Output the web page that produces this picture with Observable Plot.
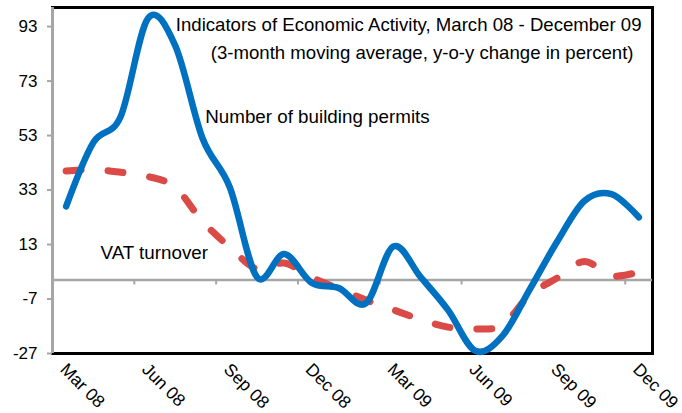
<!DOCTYPE html>
<html>
<head>
<meta charset="utf-8">
<script src="https://cdn.jsdelivr.net/npm/d3@7"></script>
<script src="https://cdn.jsdelivr.net/npm/@observablehq/plot@0.6"></script>
<style>
  html, body { margin: 0; padding: 0; background: white; }
  #chart svg { display: block; }
</style>
</head>
<body>
<div id="chart"></div>
<script>
const months = ["Mar 08","Apr 08","May 08","Jun 08","Jul 08","Aug 08","Sep 08","Oct 08","Nov 08","Dec 08","Jan 09","Feb 09","Mar 09","Apr 09","May 09","Jun 09","Jul 09","Aug 09","Sep 09","Oct 09","Nov 09","Dec 09"];
const permits = [27, 50.5, 60, 96, 86, 52, 34, 1, 9.5, -1, -3, -8.5, 12.3, 1, -11, -26, -20.5, -3.5, 14, 29, 31.5, 23];
const vat = [40, 40.5, 39.5, 38, 34, 21.5, 12, 4, 6.2, 1, -3.3, -7.4, -11, -14.5, -17.3, -18, -16.5, -5.5, 0.7, 6.8, 1.5, 3];
const yTicks = [-27, -7, 13, 33, 53, 73, 93];
const xLabelIdx = [0, 3, 6, 9, 12, 15, 18, 21];
const titleLines = ["Indicators of Economic Activity, March 08 - December 09", "(3-month moving average, y-o-y change in percent)"];
const seriesLabels = [
  {name: "Number of building permits", i: 5.1, v: 59.7},
  {name: "VAT turnover", i: 1.26, v: 10}
];

const permitsData = months.map((m, i) => ({i, v: permits[i]}));
const vatData = months.map((m, i) => ({i, v: vat[i]}));
const boundaries = xLabelIdx.slice(1).map(i => i - 0.5);

const grey = "#A6A6A6";
const chart = Plot.plot({
  width: 682,
  height: 413,
  marginLeft: 52,
  marginRight: 30,
  marginTop: 7,
  marginBottom: 60,
  style: {fontFamily: "'Liberation Sans', Arial, sans-serif", fontSize: "17px", background: "white", color: "black"},
  x: {type: "linear", domain: [-0.5, months.length - 0.5], axis: null},
  y: {domain: [-27, 100], axis: null},
  marks: [
    Plot.frame({stroke: "black", strokeWidth: 3}),
    Plot.ruleX([-0.5], {stroke: grey, strokeWidth: 3}),
    Plot.ruleY([0], {stroke: grey, strokeWidth: 2.5}),
    Plot.ruleX(boundaries, {x: d => d, y1: 0, y2: 0, insetBottom: -5, stroke: grey, strokeWidth: 2}),
    Plot.axisY({ticks: yTicks, label: null, tickSize: 5, tickPadding: 10, stroke: grey, strokeWidth: 2, fill: "black", fontSize: 17, tickFormat: d => String(d)}),
    Plot.axisX({ticks: xLabelIdx, label: null, tickFormat: i => months[i], tickRotate: 45, tickSize: 0, tickPadding: 8, dx: -3, dy: 5, fontSize: 17.5, fill: "black"}),
    Plot.line(vatData, {x: "i", y: "v", stroke: "#DA4B48", strokeWidth: 7, strokeDasharray: "15,27", strokeLinecap: "round", curve: "cardinal"}),
    Plot.line(permitsData, {x: "i", y: "v", stroke: "#0070C0", strokeWidth: 6.5, curve: "cardinal"}),
    Plot.text([titleLines[0]], {text: d => d, frameAnchor: "top-right", dx: -11, dy: 18, lineAnchor: "middle", textAnchor: "end", fontSize: 18.6, fill: "black"}),
    Plot.text([titleLines[1]], {text: d => d, frameAnchor: "top-right", dx: -19, dy: 46, lineAnchor: "middle", textAnchor: "end", fontSize: 18.6, fill: "black"}),
    Plot.text(seriesLabels, {x: "i", y: "v", text: "name", textAnchor: "start", lineAnchor: "middle", fontSize: 18.8, fill: "black"})
  ]
});
document.getElementById("chart").appendChild(chart);
</script>
</body>
</html>
